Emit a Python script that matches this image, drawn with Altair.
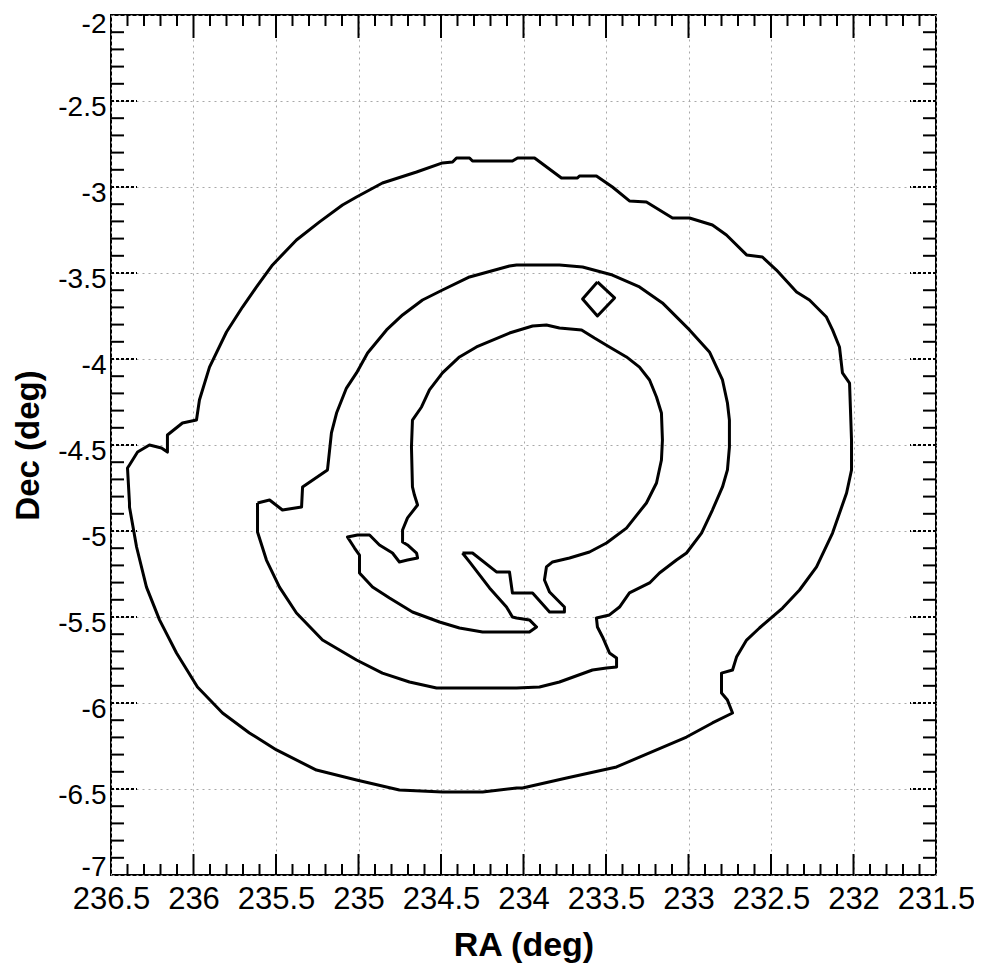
import altair as alt
import pandas as pd

# ---- contour data (RA deg, Dec deg) ----
outer_ra = [236.388, 236.400, 236.388, 236.339, 236.267, 236.194, 236.158, 236.158, 236.067, 235.982,
            235.964, 235.903, 235.800, 235.703, 235.618, 235.521, 235.376, 235.236, 235.097, 235.012,
            234.855, 234.648, 234.491, 234.430, 234.406, 234.327, 234.309, 234.067, 234.036, 233.933,
            233.770, 233.673, 233.661, 233.558, 233.461, 233.358, 233.255, 233.097, 232.994, 232.855,
            232.770, 232.648, 232.552, 232.467, 232.345, 232.267, 232.164, 232.127, 232.085, 232.067,
            232.024, 232.012, 232.012, 232.042, 232.127, 232.224, 232.327, 232.430, 232.570, 232.648,
            232.709, 232.733, 232.800, 232.800, 232.764, 232.733, 232.855, 233.012, 233.297, 233.436,
            233.739, 234.006, 234.042, 234.248, 234.491, 234.752, 235.012, 235.255, 235.497, 235.661,
            235.824, 235.976, 236.103, 236.206, 236.285, 236.345, 236.388]
outer_dec = [-4.837, -4.634, -4.616, -4.541, -4.500, -4.517, -4.541, -4.442, -4.372, -4.355,
             -4.238, -4.047, -3.843, -3.698, -3.581, -3.453, -3.308, -3.203, -3.105, -3.058,
             -2.977, -2.913, -2.860, -2.855, -2.831, -2.831, -2.849, -2.849, -2.831, -2.831,
             -2.948, -2.948, -2.936, -2.936, -3.000, -3.081, -3.087, -3.180, -3.180, -3.221,
             -3.279, -3.395, -3.407, -3.483, -3.610, -3.657, -3.756, -3.831, -3.930, -4.081,
             -4.140, -4.471, -4.645, -4.779, -5.012, -5.209, -5.343, -5.448, -5.564, -5.634,
             -5.733, -5.808, -5.826, -5.942, -5.983, -6.058, -6.116, -6.198, -6.314, -6.372,
             -6.436, -6.494, -6.494, -6.517, -6.517, -6.506, -6.448, -6.390, -6.273, -6.174,
             -6.058, -5.907, -5.709, -5.517, -5.326, -5.093, -4.860]

middle_ra = [235.612, 235.539, 235.461, 235.345, 235.339, 235.188, 235.164, 235.133, 235.073, 235.012,
             234.945, 234.830, 234.733, 234.612, 234.491, 234.327, 234.085, 234.042, 233.782, 233.642,
             233.461, 233.297, 233.158, 232.994, 232.873, 232.794, 232.764, 232.752, 232.752, 232.764,
             232.794, 232.855, 232.921, 233.012, 233.073, 233.176, 233.236, 233.358, 233.418, 233.479,
             233.558, 233.552, 233.521, 233.479, 233.436, 233.436, 233.497, 233.582, 233.782, 233.903,
             234.042, 234.527, 234.691, 234.855, 235.012, 235.218, 235.376, 235.479, 235.558, 235.612]
middle_dec = [-4.837, -4.820, -4.878, -4.860, -4.744, -4.645, -4.430, -4.314, -4.169, -4.081,
              -3.965, -3.831, -3.744, -3.657, -3.599, -3.523, -3.459, -3.453, -3.453, -3.465,
              -3.512, -3.581, -3.674, -3.831, -3.959, -4.122, -4.256, -4.355, -4.512, -4.645,
              -4.744, -4.878, -5.012, -5.128, -5.169, -5.244, -5.302, -5.360, -5.442, -5.488,
              -5.506, -5.558, -5.616, -5.709, -5.738, -5.791, -5.797, -5.808, -5.878, -5.907,
              -5.913, -5.913, -5.878, -5.826, -5.750, -5.634, -5.477, -5.326, -5.169, -5.006]

inner_ra = [234.370, 234.309, 234.164, 234.085, 234.067, 233.945, 233.842, 233.752, 233.752, 233.842,
            233.873, 233.861, 233.824, 233.721, 233.600, 233.497, 233.376, 233.255, 233.194, 233.164,
            233.158, 233.164, 233.194, 233.236, 233.297, 233.376, 233.479, 233.570, 233.648, 233.782,
            233.861, 233.945, 234.085, 234.285, 234.388, 234.491, 234.570, 234.618, 234.673, 234.679,
            234.673, 234.661, 234.642, 234.703, 234.733, 234.733, 234.703, 234.648, 234.642, 234.703,
            234.752, 234.794, 234.873, 234.933, 235.006, 235.067, 235.024, 234.994, 234.994, 234.915,
            234.812, 234.673, 234.509, 234.388, 234.248, 233.964, 233.921, 233.964, 234.042, 234.067,
            234.103, 234.206, 234.327]
inner_dec = [-5.128, -5.128, -5.238, -5.238, -5.360, -5.360, -5.471, -5.471, -5.442, -5.355,
             -5.285, -5.209, -5.180, -5.157, -5.122, -5.070, -4.983, -4.837, -4.721, -4.587,
             -4.471, -4.314, -4.221, -4.122, -4.047, -3.988, -3.930, -3.878, -3.831, -3.820,
             -3.802, -3.808, -3.849, -3.930, -3.988, -4.081, -4.180, -4.279, -4.355, -4.512,
             -4.744, -4.791, -4.849, -4.924, -4.994, -5.064, -5.081, -5.128, -5.157, -5.169,
             -5.180, -5.128, -5.081, -5.023, -5.023, -5.035, -5.099, -5.140, -5.244, -5.326,
             -5.390, -5.471, -5.529, -5.564, -5.587, -5.587, -5.558, -5.517, -5.506, -5.500,
             -5.442, -5.331, -5.180]

diamond_ra = [233.552, 233.448, 233.552, 233.642]
diamond_dec = [-3.552, -3.645, -3.750, -3.651]

# ---- axis tick values ----
ra_major = [236.5, 236.0, 235.5, 235.0, 234.5, 234.0, 233.5, 233.0, 232.5, 232.0, 231.5]
dec_major = [-2.0, -2.5, -3.0, -3.5, -4.0, -4.5, -5.0, -5.5, -6.0, -6.5, -7.0]
ra_minor = [round(236.5 - 0.1 * i, 1) for i in range(51) if i % 5 != 0]
dec_minor = [round(-2.0 - 0.1 * i, 1) for i in range(51) if i % 5 != 0]
ra_major_inner = ra_major[1:-1]
dec_major_inner = dec_major[1:-1]


def closed(name, ras, decs):
    ras = list(ras) + [ras[0]]
    decs = list(decs) + [decs[0]]
    return pd.DataFrame({"contour": name, "ra": ras, "dec": decs, "idx": list(range(len(ras)))})


df = pd.concat([
    closed("outer", outer_ra, outer_dec),
    closed("middle", middle_ra, middle_dec),
    closed("inner", inner_ra, inner_dec),
    closed("diamond", diamond_ra, diamond_dec),
], ignore_index=True)

W, H = 825, 860
FONT = "Liberation Sans"

x_scale = alt.Scale(domain=[231.5, 236.5], reverse=True, nice=False, zero=False)
y_scale = alt.Scale(domain=[-7, -2], nice=False, zero=False)

x_axis = alt.Axis(values=ra_major, title="RA (deg)", grid=True, gridDash=[2, 4], gridColor="#a8a8a8",
                  gridWidth=1, ticks=False, tickSize=0, domain=False, labelFontSize=31, labelFont=FONT,
                  labelColor="black", labelPadding=9, labelFlush=False, labelOverlap=False,
                  labelExpr="datum.value + ''", titleFont=FONT, titleFontSize=34, titleFontWeight="bold",
                  titleColor="black", titleBaseline="alphabetic", titleY=80)
y_axis = alt.Axis(values=dec_major, title="Dec (deg)", grid=True, gridDash=[2, 4], gridColor="#a8a8a8",
                  gridWidth=1, ticks=False, tickSize=0, domain=False, labelFontSize=28, labelFont=FONT,
                  labelColor="black", labelPadding=5,
                  labelOffset={"condition": [{"test": "datum.value <= -7", "value": -8},
                                             {"test": "datum.value >= -2", "value": 9}],
                               "value": 6},
                  labelFlush=False, labelOverlap=False,
                  labelExpr="datum.value + ''", titleFont=FONT, titleFontSize=33, titleFontWeight="bold",
                  titleColor="black", titleBaseline="alphabetic", titleX=-73, titleY=H / 2)

contours = alt.Chart(df).mark_line(color="black", strokeWidth=3, strokeJoin="round").encode(
    x=alt.X("ra:Q", scale=x_scale, axis=x_axis),
    y=alt.Y("dec:Q", scale=y_scale, axis=y_axis),
    detail="contour:N",
    order="idx:Q",
)


def xticks(values, y0, y1, dash=None):
    kw = dict(color="black", strokeWidth=2)
    if dash:
        kw["strokeDash"] = dash
    return alt.Chart(pd.DataFrame({"ra": values})).mark_rule(**kw).encode(
        x=alt.X("ra:Q", scale=x_scale, axis=x_axis), y=alt.value(y0), y2=alt.value(y1))


def yticks(values, x0, x1, dash=None):
    kw = dict(color="black", strokeWidth=2)
    if dash:
        kw["strokeDash"] = dash
    return alt.Chart(pd.DataFrame({"dec": values})).mark_rule(**kw).encode(
        y=alt.Y("dec:Q", scale=y_scale, axis=y_axis), x=alt.value(x0), x2=alt.value(x1))


layers = [
    contours,
    xticks(ra_minor, H, H - 11),
    xticks(ra_major_inner, H, H - 21),
    xticks(ra_minor, 0, 11),
    xticks(ra_major_inner, 0, 23),
    yticks(dec_minor, 0, 13),
    yticks(dec_major_inner, 0, 26, dash=[3, 2]),
    yticks(dec_minor, W, W - 13),
    yticks(dec_major_inner, W, W - 26, dash=[3, 2]),
]

chart = alt.layer(*layers).properties(
    width=W, height=H,
    autosize=alt.AutoSizeParams(type="none"),
    padding={"left": 103, "top": 7, "right": 38, "bottom": 90},
    background="white",
).configure_view(stroke="black", strokeWidth=2)

chart.save("out.html", embed_options={"renderer": "svg", "actions": False})
